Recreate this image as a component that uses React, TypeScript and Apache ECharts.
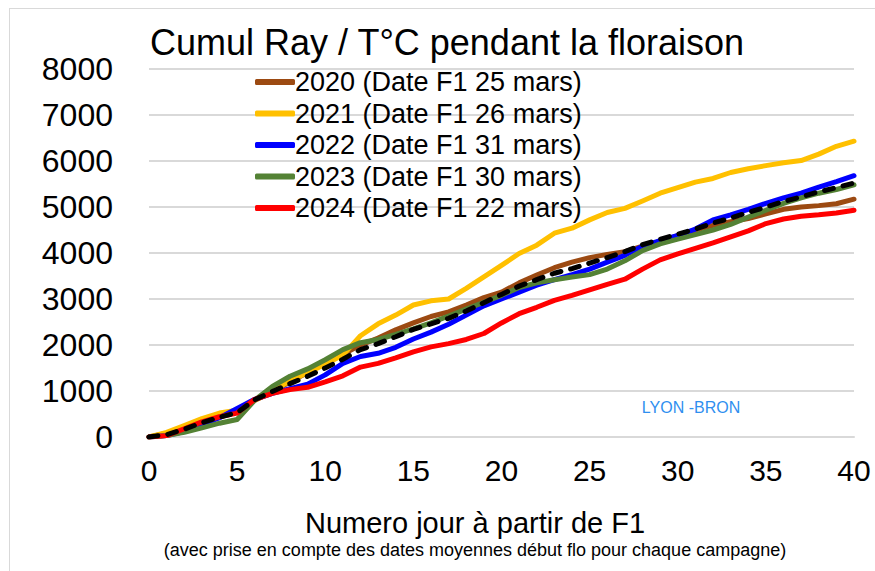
import React, { useEffect, useRef } from "react";
import * as echarts from "echarts";

const days = [0, 1, 2, 3, 4, 5, 6, 7, 8, 9, 10, 11, 12, 13, 14, 15, 16, 17, 18, 19, 20, 21, 22, 23, 24, 25, 26, 27, 28, 29, 30, 31, 32, 33, 34, 35, 36, 37, 38, 39, 40];

const y2020 = [0, 80, 220, 350, 470, 540, 800, 980, 1200, 1400, 1600, 1800, 2000, 2150, 2330, 2480, 2620, 2720, 2870, 3030, 3150, 3350, 3520, 3680, 3800, 3900, 3970, 4030, 4150, 4250, 4380, 4500, 4600, 4680, 4750, 4850, 4950, 5000, 5030, 5070, 5170];
const y2021 = [0, 100, 250, 400, 520, 580, 800, 980, 1230, 1400, 1580, 1780, 2200, 2460, 2650, 2870, 2960, 3000, 3230, 3480, 3730, 3990, 4170, 4430, 4540, 4720, 4880, 4970, 5130, 5300, 5420, 5540, 5620, 5750, 5830, 5900, 5960, 6010, 6150, 6320, 6430];
const y2022 = [0, 30, 120, 260, 420, 620, 820, 950, 1050, 1150, 1350, 1600, 1750, 1820, 1950, 2130, 2280, 2450, 2650, 2850, 3000, 3150, 3300, 3420, 3530, 3650, 3800, 3950, 4150, 4270, 4380, 4520, 4720, 4830, 4950, 5080, 5200, 5300, 5430, 5550, 5680];
const y2023 = [0, 30, 100, 200, 300, 380, 800, 1100, 1320, 1480, 1680, 1900, 2050, 2120, 2230, 2350, 2480, 2630, 2780, 2930, 3080, 3250, 3350, 3420, 3480, 3530, 3650, 3830, 4050, 4200, 4300, 4400, 4500, 4620, 4780, 4930, 5080, 5200, 5300, 5380, 5480];
const y2024 = [0, 30, 180, 330, 440, 520, 820, 950, 1030, 1080, 1200, 1330, 1520, 1600, 1720, 1850, 1960, 2030, 2120, 2250, 2480, 2680, 2820, 2970, 3080, 3200, 3320, 3430, 3650, 3850, 3980, 4100, 4220, 4350, 4480, 4640, 4740, 4800, 4830, 4870, 4930];
const yAvg = [0, 50, 170, 310, 430, 530, 810, 990, 1160, 1320, 1500, 1690, 1900, 2030, 2180, 2340, 2460, 2580, 2740, 2920, 3100, 3280, 3420, 3560, 3660, 3780, 3900, 4030, 4180, 4300, 4410, 4520, 4650, 4760, 4880, 5000, 5120, 5220, 5330, 5420, 5520];

const seriesNames = [
  "2020 (Date F1 25 mars)",
  "2021 (Date F1 26 mars)",
  "2022 (Date F1 31 mars)",
  "2023 (Date F1 30 mars)",
  "2024 (Date F1 22 mars)",
];
const seriesValues = [y2020, y2021, y2022, y2023, y2024];
const seriesColors = ["#9C4A12", "#FFC000", "#0000FF", "#548235", "#FF0000"];

const titleText = "Cumul Ray / T°C pendant la floraison";
const xName = "Numero jour à partir de F1";
const xSub = "(avec prise en compte des dates moyennes début flo pour chaque campagne)";
const stationText = "LYON -BRON";

const FONT = "'Liberation Sans', Arial, sans-serif";

export default function App() {
  const ref = useRef<HTMLDivElement>(null);
  useEffect(() => {
    if (!ref.current) return;
    const chart = echarts.init(ref.current, null, { renderer: "svg" });
    const pair = (vals: number[]) => days.map((d, i) => [d, vals[i]]);
    const series: any[] = seriesNames.map((name, k) => ({
      name,
      type: "line",
      data: pair(seriesValues[k]),
      showSymbol: false,
      symbol: "none",
      color: seriesColors[k],
      lineStyle: { width: 5, color: seriesColors[k], cap: "round", join: "round" },
    }));
    series.push({
      name: "Moyenne",
      type: "line",
      data: pair(yAvg),
      showSymbol: false,
      symbol: "none",
      color: "#000000",
      lineStyle: { width: 5, color: "#000000", type: [9, 10], cap: "round", join: "round" },
    });
    chart.setOption({
      animation: false,
      backgroundColor: "#ffffff",
      textStyle: { fontFamily: FONT },
      grid: { left: 149, right: 21, top: 69, bottom: 134, containLabel: false },
      legend: {
        data: seriesNames.map((n) => ({ name: n, icon: "roundRect" })),
        orient: "vertical",
        left: 250,
        top: 62,
        itemWidth: 40,
        itemHeight: 6,
        itemGap: 1.5,
        textStyle: { fontSize: 27, color: "#000", fontFamily: FONT, lineHeight: 30, padding: [0, 0, 0, -5] },
      },
      xAxis: {
        type: "value",
        min: 0,
        max: 40,
        interval: 5,
        axisLine: { show: true, lineStyle: { color: "#d9d9d9", width: 2 } },
        axisTick: { show: false },
        splitLine: { show: false },
        axisLabel: { fontSize: 30, color: "#000", margin: 18, fontFamily: FONT },
      },
      yAxis: {
        type: "value",
        min: 0,
        max: 8000,
        interval: 1000,
        axisLine: { show: false },
        axisTick: { show: false },
        splitLine: { lineStyle: { color: "#d9d9d9", width: 2 } },
        axisLabel: { fontSize: 32, color: "#000", margin: 36, fontFamily: FONT, formatter: (v: number) => String(v) },
      },
      graphic: [
        { type: "line", shape: { x1: 9, y1: 8.5, x2: 875, y2: 8.5 }, style: { stroke: "#d9d9d9", lineWidth: 1 } },
        { type: "line", shape: { x1: 9.5, y1: 8, x2: 9.5, y2: 571 }, style: { stroke: "#d9d9d9", lineWidth: 1 } },
        {
          type: "text",
          x: 150,
          y: 42,
          style: { text: titleText, fontSize: 36, fill: "#000", fontFamily: FONT, verticalAlign: "middle" },
        },
        {
          type: "text",
          x: 475,
          y: 523,
          style: { text: xName, fontSize: 29, fill: "#000", fontFamily: FONT, align: "center", verticalAlign: "middle" },
        },
        {
          type: "text",
          x: 475,
          y: 550,
          style: { text: xSub, fontSize: 18, fill: "#000", fontFamily: FONT, align: "center", verticalAlign: "middle" },
        },
        {
          type: "text",
          x: 691,
          y: 407,
          style: { text: stationText, fontSize: 16, fill: "#2F8FEF", fontFamily: FONT, align: "center", verticalAlign: "middle" },
        },
      ],
      series,
    });
    return () => chart.dispose();
  }, []);
  return <div ref={ref} style={{ position: "fixed", left: 0, top: 0, width: 875, height: 571 }} />;
}
